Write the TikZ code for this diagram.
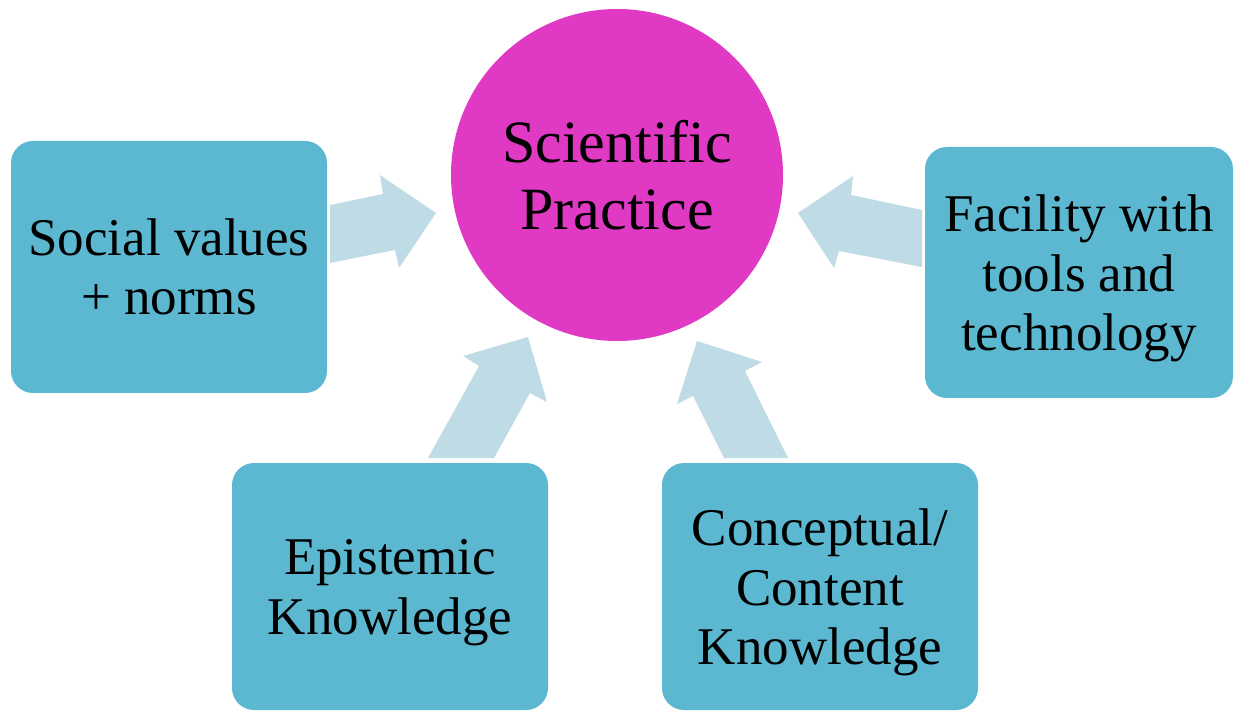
\documentclass[tikz,border=0pt]{standalone}
\usepackage{fontspec}
\setmainfont{Liberation Serif}
\definecolor{hubfill}{RGB}{224,58,196}
\definecolor{boxfill}{RGB}{91,184,208}
\definecolor{arrowfill}{RGB}{191,219,229}
% invisible struts giving every line the same ascent/descent
\newcommand{\linestrut}{\rule[-11pt]{0pt}{59pt}}
\newcommand{\circstrut}{\rule[-12.5pt]{0pt}{67pt}}
\tikzset{
  topicbox/.style={rectangle, rounded corners=22pt, fill=boxfill, draw=none,
    inner sep=0pt, align=center, font=\fontsize{53}{59}\selectfont},
  hub/.style={circle, fill=hubfill, draw=none, minimum size=332pt, inner sep=0pt,
    align=center, font=\fontsize{60}{67}\selectfont},
  blockarrow/.style={fill=arrowfill, draw=none},
}
\begin{document}
\begin{tikzpicture}[x=1pt, y=-1pt]
\useasboundingbox (0,0) rectangle (1235,711);

% central practice
\node[hub] (sp) at (617,175) {\circstrut Scientific\\\circstrut Practice};

% contributing strands
\node[topicbox, minimum width=316pt, minimum height=252pt] (social) at (169,267)
  {\linestrut Social values\\\linestrut + norms};
\node[topicbox, minimum width=308pt, minimum height=251pt] (tools) at (1079,272.5)
  {\linestrut Facility with\\\linestrut tools and\\\linestrut technology};
\node[topicbox, minimum width=316pt, minimum height=247pt] (epist) at (390,586.5)
  {\linestrut Epistemic\\\linestrut Knowledge};
\node[topicbox, minimum width=316pt, minimum height=247pt] (concept) at (820,586.5)
  {\linestrut Conceptual/\\\linestrut Content\\\linestrut Knowledge};

% block arrows pointing into the hub
\fill[blockarrow] (330,205) -- (383,194) -- (380,175) -- (436,213)
  -- (399,268) -- (395,250) -- (330,263) -- cycle;
\fill[blockarrow] (922,210) -- (851,195) -- (853,176) -- (798,213)
  -- (834,268) -- (839,251) -- (922,267) -- cycle;
\fill[blockarrow] (428,458) -- (479,366) -- (463,356) -- (528,337)
  -- (547,402) -- (530,393) -- (494,458) -- cycle;
\fill[blockarrow] (788,458) -- (745,371) -- (762,362) -- (697,341)
  -- (677,404) -- (693,396) -- (724,458) -- cycle;
\end{tikzpicture}
\end{document}
